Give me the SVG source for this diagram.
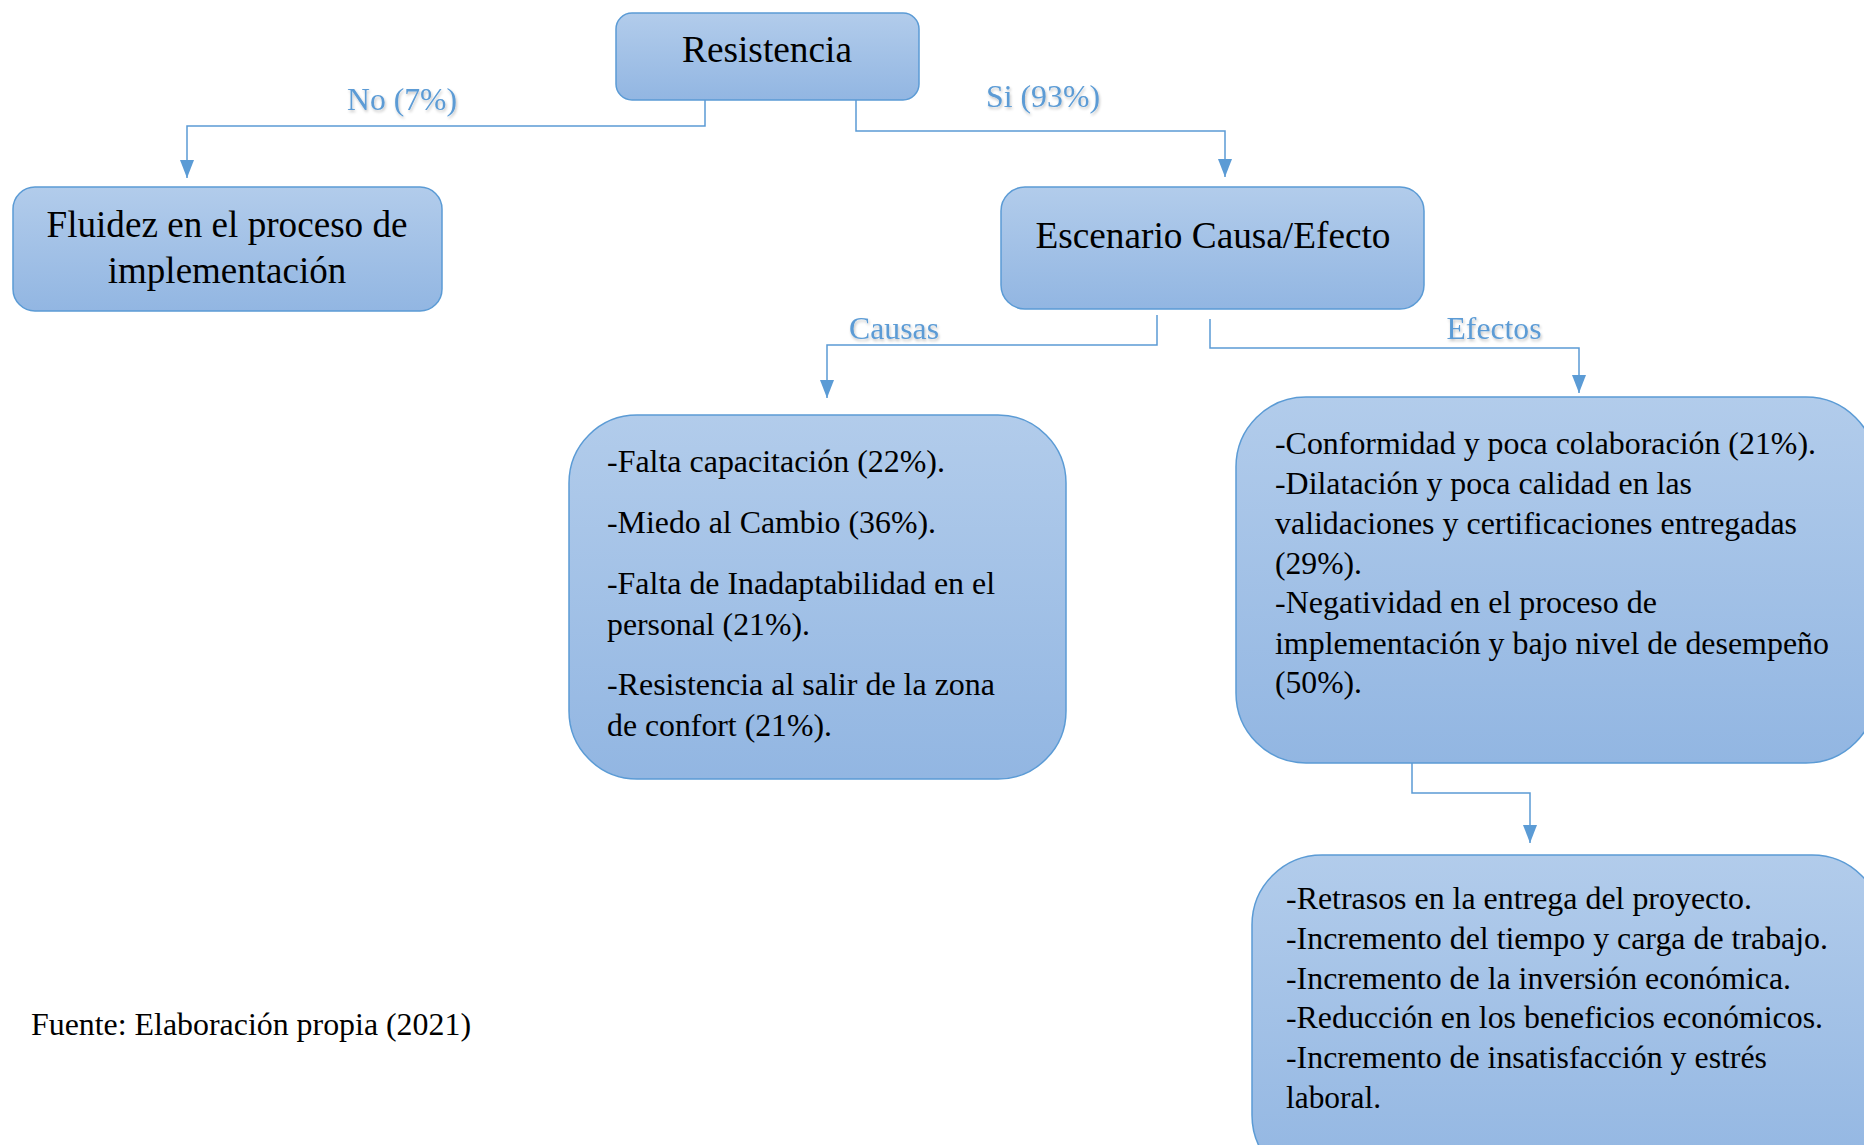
<svg xmlns="http://www.w3.org/2000/svg" width="1864" height="1145" viewBox="0 0 1864 1145">
<defs>
<linearGradient id="g" x1="0" y1="0" x2="0" y2="1">
<stop offset="0" stop-color="#b2cceb"/>
<stop offset="1" stop-color="#92b6e2"/>
</linearGradient>
<marker id="arr" viewBox="0 0 18 14" refX="18" refY="7" markerWidth="18" markerHeight="14" markerUnits="userSpaceOnUse" orient="auto">
<path d="M0,0 L18,7 L0,14 z" fill="#5b9bd5"/>
</marker>
<filter id="glow" x="-10%" y="-30%" width="120%" height="160%">
<feGaussianBlur in="SourceAlpha" stdDeviation="1.5"/>
<feOffset dx="1" dy="2" result="b"/>
<feComponentTransfer><feFuncA type="linear" slope="0.25"/></feComponentTransfer>
<feMerge><feMergeNode/><feMergeNode in="SourceGraphic"/></feMerge>
</filter>
</defs>
<style>
.box{fill:url(#g);stroke:#5b9bd5;stroke-width:1.5}
.t{font-family:"Liberation Serif","Times New Roman",serif;fill:#000}
.title{font-size:37px;text-anchor:middle}
.body{font-size:32px}
.lab{font-family:"Liberation Serif","Times New Roman",serif;font-size:31px;fill:#5b9bd5;text-anchor:middle;filter:url(#glow)}
.con{fill:none;stroke:#5b9bd5;stroke-width:1.5;marker-end:url(#arr)}
</style>
<rect width="1864" height="1145" fill="#fff"/>

<g id="connectors">
<path class="con" d="M705,100 V126 H187 V178"/>
<path class="con" d="M856,100 V131 H1225 V177"/>
<path class="con" d="M1157,315 V345 H827 V398"/>
<path class="con" d="M1210,319 V348 H1579 V393"/>
<path class="con" d="M1412,763 V793 H1530 V843"/>
<text class="lab" x="402" y="110" textLength="110" lengthAdjust="spacingAndGlyphs">No (7%)</text>
<text class="lab" x="1043" y="107" textLength="114" lengthAdjust="spacingAndGlyphs">Si (93%)</text>
<text class="lab" x="894" y="339" textLength="90" lengthAdjust="spacingAndGlyphs">Causas</text>
<text class="lab" x="1494" y="339" textLength="95" lengthAdjust="spacingAndGlyphs">Efectos</text>
</g>

<g id="resistencia">
<rect class="box" x="616" y="13" width="303" height="87" rx="16"/>
<text class="t title" x="767" y="62" textLength="170" lengthAdjust="spacingAndGlyphs">Resistencia</text>
</g>

<g id="fluidez">
<rect class="box" x="13" y="187" width="429" height="124" rx="22"/>
<text class="t title" x="227" y="237" textLength="361" lengthAdjust="spacingAndGlyphs">Fluidez en el proceso de</text>
<text class="t title" x="227" y="283">implementación</text>
</g>

<g id="escenario">
<rect class="box" x="1001" y="187" width="423" height="122" rx="24"/>
<text class="t title" x="1213" y="248" textLength="355" lengthAdjust="spacingAndGlyphs">Escenario Causa/Efecto</text>
</g>

<g id="causas">
<rect class="box" x="569" y="415" width="497" height="364" rx="68"/>
<text class="t body" x="607" y="472" textLength="338" lengthAdjust="spacingAndGlyphs">-Falta capacitación (22%).</text>
<text class="t body" x="607" y="533" textLength="329" lengthAdjust="spacingAndGlyphs">-Miedo al Cambio (36%).</text>
<text class="t body" x="607" y="594" textLength="388" lengthAdjust="spacingAndGlyphs">-Falta de Inadaptabilidad en el</text>
<text class="t body" x="607" y="635" textLength="203" lengthAdjust="spacingAndGlyphs">personal (21%).</text>
<text class="t body" x="607" y="695" textLength="388" lengthAdjust="spacingAndGlyphs">-Resistencia al salir de la zona</text>
<text class="t body" x="607" y="736" textLength="225" lengthAdjust="spacingAndGlyphs">de confort (21%).</text>
</g>

<g id="efectos">
<rect class="box" x="1236" y="397" width="640" height="366" rx="70"/>
<text class="t body" x="1275" y="454" textLength="541" lengthAdjust="spacingAndGlyphs">-Conformidad y poca colaboración (21%).</text>
<text class="t body" x="1275" y="494" textLength="417" lengthAdjust="spacingAndGlyphs">-Dilatación y poca calidad en las</text>
<text class="t body" x="1275" y="534" textLength="522" lengthAdjust="spacingAndGlyphs">validaciones y certificaciones entregadas</text>
<text class="t body" x="1275" y="574" textLength="87" lengthAdjust="spacingAndGlyphs">(29%).</text>
<text class="t body" x="1275" y="613" textLength="382" lengthAdjust="spacingAndGlyphs">-Negatividad en el proceso de</text>
<text class="t body" x="1275" y="654" textLength="554" lengthAdjust="spacingAndGlyphs">implementación y bajo nivel de desempeño</text>
<text class="t body" x="1275" y="693" textLength="87" lengthAdjust="spacingAndGlyphs">(50%).</text>
</g>

<g id="consecuencias">
<rect class="box" x="1252" y="855" width="630" height="330" rx="70"/>
<text class="t body" x="1286" y="909" textLength="466" lengthAdjust="spacingAndGlyphs">-Retrasos en la entrega del proyecto.</text>
<text class="t body" x="1286" y="949" textLength="542" lengthAdjust="spacingAndGlyphs">-Incremento del tiempo y carga de trabajo.</text>
<text class="t body" x="1286" y="989" textLength="505" lengthAdjust="spacingAndGlyphs">-Incremento de la inversión económica.</text>
<text class="t body" x="1286" y="1028" textLength="537" lengthAdjust="spacingAndGlyphs">-Reducción en los beneficios económicos.</text>
<text class="t body" x="1286" y="1068" textLength="481" lengthAdjust="spacingAndGlyphs">-Incremento de insatisfacción y estrés</text>
<text class="t body" x="1286" y="1108" textLength="95" lengthAdjust="spacingAndGlyphs">laboral.</text>
</g>

<g id="fuente">
<text class="t body" x="31" y="1035" textLength="440" lengthAdjust="spacingAndGlyphs">Fuente: Elaboración propia (2021)</text>
</g>
</svg>
